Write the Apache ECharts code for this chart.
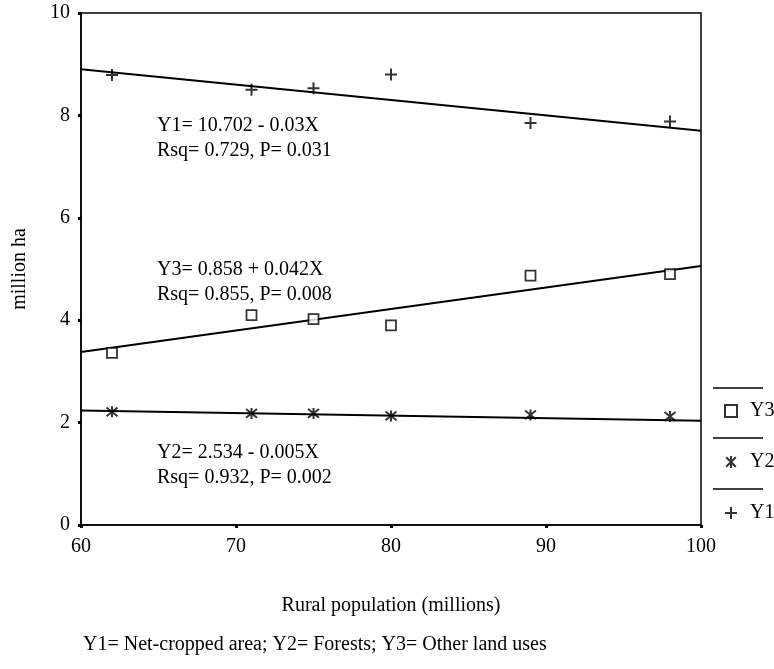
<!DOCTYPE html>
<html>
<head>
<meta charset="utf-8">
<title>Land use vs rural population</title>
<script src="https://cdn.jsdelivr.net/npm/echarts@6/dist/echarts.min.js"></script>
<style>
  html, body { margin: 0; padding: 0; background: #fff; }
  #chart { width: 774px; height: 669px; }
</style>
</head>
<body>
<div id="chart"></div>
<script>
// Rural population (millions) for each observation year
const ruralPop = [62, 71, 75, 80, 89, 98];

// Land use areas (million ha)
const y1NetCropped = [8.79, 8.50, 8.53, 8.80, 7.85, 7.88];
const y2Forests = [2.21, 2.18, 2.18, 2.13, 2.15, 2.12];
const y3OtherUses = [3.36, 4.10, 4.02, 3.90, 4.87, 4.90];

// Fitted regressions: Y = intercept + slope * X
const fitNames = ['Y1', 'Y3', 'Y2'];
const fitIntercepts = [10.702, 0.858, 2.534];
const fitSlopes = [-0.03, 0.042, -0.005];
const fitRsq = ['0.729', '0.855', '0.932'];
const fitP = ['0.031', '0.008', '0.002'];

const xTicks = { min: 60, max: 100, step: 10 };
const yTicks = { min: 0, max: 10, step: 2 };

const FONT = '"Liberation Serif", "Times New Roman", serif';

const SYM_PLUS = 'path://M0,6L12,6M6,0L6,12';
const SYM_STAR = 'path://M1,1L9,9M9,1L1,9M5,0L5,10';

function pairs(xs, ys) {
  return xs.map((x, i) => [x, ys[i]]);
}

function fitLine(k) {
  return [xTicks.min, xTicks.max].map(x => [x, +(fitIntercepts[k] + fitSlopes[k] * x).toFixed(4)]);
}

function equationText(k) {
  const s = fitSlopes[k];
  const sign = s < 0 ? ' - ' : ' + ';
  return fitNames[k] + '= ' + fitIntercepts[k] + sign + Math.abs(s) + 'X\n' +
         'Rsq= ' + fitRsq[k] + ', P= ' + fitP[k];
}

// Where each regression note sits (top of first line)
const notePos = [[157, 113], [157, 257], [157, 440]];

const chart = echarts.init(document.getElementById('chart'));

const option = {
  backgroundColor: '#fff',
  animation: false,
  grid: {
    left: 81, top: 13, width: 620, height: 512,
    show: true, borderColor: '#000', borderWidth: 1.5,
    backgroundColor: 'transparent'
  },
  xAxis: {
    type: 'value',
    min: xTicks.min, max: xTicks.max, interval: xTicks.step,
    name: 'Rural population (millions)',
    nameLocation: 'middle',
    nameGap: 71,
    nameTextStyle: { fontFamily: FONT, fontSize: 20, color: '#000', verticalAlign: 'top' },
    axisLine: { lineStyle: { color: '#000', width: 1.5 } },
    axisTick: { length: 3, lineStyle: { color: '#000', width: 3 } },
    axisLabel: { fontFamily: FONT, fontSize: 20, color: '#000', margin: 12 },
    splitLine: { show: false }
  },
  yAxis: {
    type: 'value',
    min: yTicks.min, max: yTicks.max, interval: yTicks.step,
    name: 'million ha',
    nameLocation: 'middle',
    nameRotate: 90,
    nameGap: 51,
    nameTextStyle: { fontFamily: FONT, fontSize: 20, color: '#000' },
    axisLine: { lineStyle: { color: '#000', width: 1.5 } },
    axisTick: { length: 3, lineStyle: { color: '#000', width: 3 } },
    axisLabel: { fontFamily: FONT, fontSize: 20, color: '#000', margin: 11 },
    splitLine: { show: false }
  },
  legend: {
    orient: 'vertical',
    left: 724,
    top: 401,
    padding: 0,
    itemGap: 31,
    itemWidth: 12,
    itemHeight: 12,
    data: ['Y3', 'Y2', 'Y1'],
    textStyle: { fontFamily: FONT, fontSize: 20, color: '#000', padding: [0, 0, 0, 8] }
  },
  series: [
    {
      name: 'Y1', type: 'scatter', data: pairs(ruralPop, y1NetCropped),
      symbol: SYM_PLUS, symbolSize: 12,
      itemStyle: { color: 'transparent', borderColor: '#000', borderWidth: 2 },
      z: 3
    },
    {
      name: 'Y2', type: 'scatter', data: pairs(ruralPop, y2Forests),
      symbol: SYM_STAR, symbolSize: 11,
      itemStyle: { color: 'transparent', borderColor: '#000', borderWidth: 2 },
      z: 3
    },
    {
      name: 'Y3', type: 'scatter', data: pairs(ruralPop, y3OtherUses),
      symbol: 'rect', symbolSize: 10,
      itemStyle: { color: '#fff', borderColor: '#000', borderWidth: 1.8 },
      z: 3
    },
    ...fitNames.map((n, k) => ({
      name: n + ' fit', type: 'line', data: fitLine(k),
      symbol: 'none', silent: true,
      lineStyle: { color: '#000', width: 2 },
      z: 2
    }))
  ],
  graphic: [
    // separators above each legend entry
    ...[388, 438, 489].map(y => ({
      type: 'line', shape: { x1: 713, y1: y, x2: 763, y2: y },
      style: { stroke: '#000', lineWidth: 1.6 }
    })),
    ...fitNames.map((n, k) => ({
      type: 'text', left: notePos[k][0], top: notePos[k][1],
      style: { text: equationText(k), font: '20px ' + FONT, fill: '#000', lineHeight: 25 }
    })),
    {
      type: 'text', left: 83, top: 635,
      style: {
        text: 'Y1= Net-cropped area; Y2= Forests; Y3= Other land uses',
        font: '20px ' + FONT, fill: '#000'
      }
    }
  ]
};

chart.setOption(option);
</script>
</body>
</html>
